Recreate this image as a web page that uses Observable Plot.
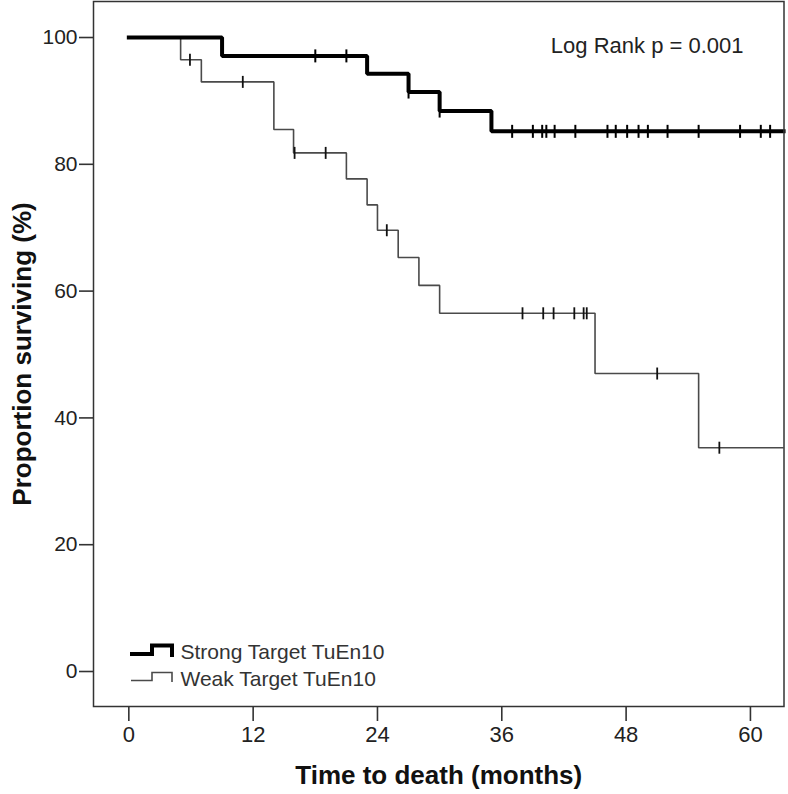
<!DOCTYPE html>
<html>
<head>
<meta charset="utf-8">
<script src="https://cdn.jsdelivr.net/npm/d3@7"></script>
<script src="https://cdn.jsdelivr.net/npm/@observablehq/plot@0.6"></script>
<style>
  body { margin: 0; background: #fff; }
  #chart svg g[aria-label^="x-axis"] text { font-size: 22px; }
  #chart svg g[aria-label^="y-axis"] text { font-size: 21px; }
  #chart svg g[aria-label^="x-axis"] path, #chart svg g[aria-label^="x-axis"] line,
  #chart svg g[aria-label^="y-axis"] path, #chart svg g[aria-label^="y-axis"] line { stroke-width: 1.6px; stroke: #333; }
</style>
</head>
<body>
<div id="chart"></div>
<script>
// ---- data ----
const strongTime = [0, 9, 23, 27, 30, 35, 63.2];
const strongSurv = [100, 97.1, 94.3, 91.4, 88.4, 85.2, 85.2];
const strongCensorTime = [18, 21, 27, 30, 37, 39, 39.9, 40.3, 41.1, 43.1, 46.2, 47, 48.1, 49.2, 50.1, 52, 55, 59, 61, 61.9];
const strongCensorSurv = [97.1, 97.1, 91.4, 88.4, 85.2, 85.2, 85.2, 85.2, 85.2, 85.2, 85.2, 85.2, 85.2, 85.2, 85.2, 85.2, 85.2, 85.2, 85.2, 85.2];

const weakTime = [0, 5, 7, 14, 15.9, 21, 23, 24, 26, 28, 30, 45, 55, 63.2];
const weakSurv = [100, 96.5, 93.0, 85.5, 81.8, 77.7, 73.6, 69.6, 65.3, 60.9, 56.5, 47.0, 35.3, 35.3];
const weakCensorTime = [5.9, 11, 16, 19, 24.9, 38, 40, 41, 43, 43.9, 44.2, 51, 57];
const weakCensorSurv = [96.5, 93.0, 81.8, 81.8, 69.6, 56.5, 56.5, 56.5, 56.5, 56.5, 56.5, 47.0, 35.3];

const xTicks = [0, 12, 24, 36, 48, 60];
const yTicks = [0, 20, 40, 60, 80, 100];
const seriesNames = ["Strong Target TuEn10", "Weak Target TuEn10"];
const xLabel = "Time to death (months)";
const yLabel = "Proportion surviving (%)";
const statLabel = "Log Rank p = 0.001";

// ---- tables built from the arrays ----
const strong = strongTime.map((t, i) => ({t, s: strongSurv[i]}));
const weak = weakTime.map((t, i) => ({t, s: weakSurv[i]}));
const strongC = strongCensorTime.map((t, i) => ({t, s: strongCensorSurv[i]}));
const weakC = weakCensorTime.map((t, i) => ({t, s: weakCensorSurv[i]}));

// vertical censor tick symbol
const tickSymbol = {
  draw(context, size) {
    const r = Math.sqrt(size / Math.PI);
    context.moveTo(0, -r);
    context.lineTo(0, r);
  }
};

const font = "'Liberation Sans', Arial, Helvetica, sans-serif";

const chart = Plot.plot({
  width: 788,
  height: 794,
  marginLeft: 93,
  marginRight: 4.5,
  marginTop: 1,
  marginBottom: 88,
  style: {fontFamily: font, fontSize: "21px", color: "#222", background: "white", overflow: "visible"},
  x: {domain: [-3.41, 63.24], ticks: xTicks, tickSize: 15, tickPadding: 5, label: null},
  y: {domain: [-5.52, 105.68], ticks: yTicks, tickSize: 14, tickPadding: 2, label: null},
  marks: [
    Plot.line(weak, {x: "t", y: "s", curve: "step-after", stroke: "#4a4a4a", strokeWidth: 1.6, strokeLinejoin: "miter", strokeLinecap: "butt"}),
    Plot.dot(weakC, {x: "t", y: "s", symbol: tickSymbol, r: 6, fill: "none", stroke: "#111", strokeWidth: 1.8}),
    Plot.line(strong, {x: "t", y: "s", curve: "step-after", stroke: "#000", strokeWidth: 4, strokeLinejoin: "miter", strokeLinecap: "square"}),
    Plot.dot(strongC, {x: "t", y: "s", symbol: tickSymbol, r: 6.5, fill: "none", stroke: "#000", strokeWidth: 2}),
    Plot.frame({stroke: "#333", strokeWidth: 1.5}),
    Plot.text([statLabel], {frameAnchor: "top-right", dx: -40.5, dy: 51.7, textAnchor: "end", lineAnchor: "bottom", fontSize: 22, fill: "#222"}),
    Plot.text([seriesNames[0]], {frameAnchor: "bottom-left", dx: 87, dy: -47.7, textAnchor: "start", lineAnchor: "bottom", fontSize: 21, fill: "#333"}),
    Plot.text([seriesNames[1]], {frameAnchor: "bottom-left", dx: 87, dy: -21, textAnchor: "start", lineAnchor: "bottom", fontSize: 21, fill: "#333"}),
    Plot.text([xLabel], {frameAnchor: "bottom", dy: 77, textAnchor: "middle", lineAnchor: "bottom", fontSize: 26, fontWeight: "bold", fill: "#111"}),
    Plot.text([yLabel], {frameAnchor: "left", dx: -62.5, rotate: -90, textAnchor: "middle", lineAnchor: "bottom", fontSize: 26, fontWeight: "bold", fill: "#111"})
  ]
});

// legend glyphs (step icons)
const svg = d3.select(chart);
svg.append("path")
  .attr("d", "M130,654H152V645.5H172V657")
  .attr("fill", "none").attr("stroke", "#000").attr("stroke-width", 4).attr("stroke-linejoin", "miter");
svg.append("path")
  .attr("d", "M131,680.5H152V672.5H172V682")
  .attr("fill", "none").attr("stroke", "#4a4a4a").attr("stroke-width", 1.6).attr("stroke-linejoin", "miter");

document.getElementById("chart").appendChild(chart);
</script>
</body>
</html>
